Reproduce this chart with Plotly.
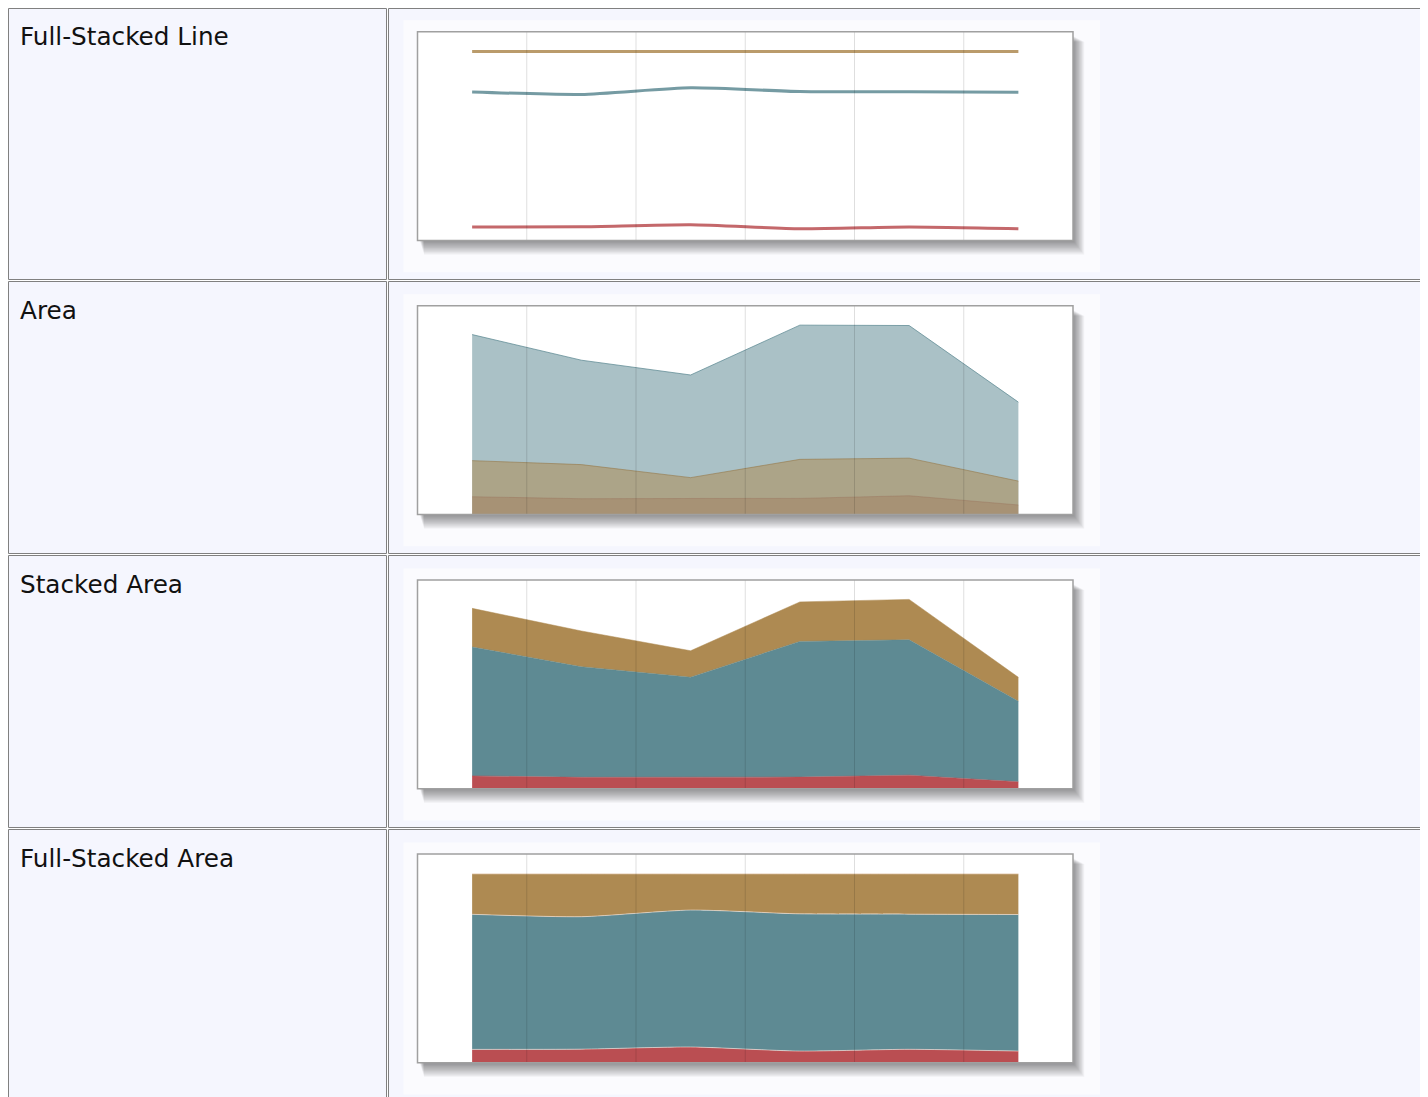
import plotly.graph_objects as go

# page has an 8px body margin, so the figure covers the rest of the window
OFF = 8
W, H = 1420, 1089

points = ["P1", "P2", "P3", "P4", "P5", "P6"]
red_vals = [18.0, 16.0, 16.2, 16.3, 19.0, 9.7]
blue_vals = [181.2, 155.4, 140.5, 190.7, 190.3, 113.2]
gold_vals = [54.3, 50.3, 37.2, 55.6, 56.8, 33.7]

row_labels = ["Full-Stacked Line", "Area", "Stacked Area", "Full-Stacked Area"]

RED = "#BA4E52"
BLUE = "#5E8A93"
GOLD = "#AE8A52"

CELL_BG = "#F5F6FE"
IMG_BG = "#FBFBFE"
BORDER = "#808080"


def px(x):
    return (x - OFF) / W


def py(y):
    return 1 - (y - OFF) / H


ROW_STEP = 274.1
BOX_L, BOX_R = 417.5, 1073
BOX_TOP0, BOX_H = 31.7, 208.8

fig = go.Figure()
shapes = []
annotations = []

# === table cells ===
row_tops = [8.5, 281.5, 555.5, 829.5]
row_bots = [279.5, 553.5, 827.5, 1110]
for t, b in zip(row_tops, row_bots):
    for x0, x1 in [(8.5, 386.5), (388.5, 1440)]:
        shapes.append(dict(type="rect", xref="paper", yref="paper", layer="below",
                           x0=px(x0), x1=px(x1), y0=py(b), y1=py(t),
                           fillcolor=CELL_BG, line=dict(color=BORDER, width=1)))

# === thumbnails ===
for k in range(4):
    top = BOX_TOP0 + k * ROW_STEP
    bot = top + BOX_H
    img_t = top - 11.5
    shapes.append(dict(type="rect", xref="paper", yref="paper", layer="below",
                       x0=px(403.5), x1=px(1100), y0=py(img_t + 252), y1=py(img_t),
                       fillcolor=IMG_BG, line=dict(width=0)))
    # soft drop shadow
    for i in range(1, 16):
        shapes.append(dict(type="rect", xref="paper", yref="paper", layer="below",
                           x0=px(BOX_L + 2 + i * 0.3), x1=px(BOX_R + i * 0.75),
                           y0=py(bot + i * 0.95), y1=py(top + 4 + i * 0.4),
                           fillcolor="rgba(0,0,0,0.03)", line=dict(width=0)))
    shapes.append(dict(type="rect", xref="paper", yref="paper", layer="below",
                       x0=px(BOX_L), x1=px(BOX_R), y0=py(bot), y1=py(top),
                       fillcolor="white", line=dict(width=0)))

    annotations.append(dict(xref="paper", yref="paper", x=px(18), y=py(20 + k * ROW_STEP),
                            xanchor="left", yanchor="top", showarrow=False,
                            text=row_labels[k],
                            font=dict(family="DejaVu Sans, Verdana", size=24.7, color="#111111")))

    xa = "xaxis" if k == 0 else f"xaxis{k + 1}"
    ya = "yaxis" if k == 0 else f"yaxis{k + 1}"
    xr = "x" if k == 0 else f"x{k + 1}"
    yr = "y" if k == 0 else f"y{k + 1}"
    fig.layout[xa] = dict(domain=[px(BOX_L), px(BOX_R)], range=[-0.5, len(points) - 0.5],
                          type="category", showgrid=False, zeroline=False, showline=False,
                          showticklabels=False, ticks="", anchor=yr, fixedrange=True)
    fig.layout[ya] = dict(domain=[py(bot), py(top)], showgrid=False, zeroline=False,
                          showline=False, showticklabels=False, ticks="", anchor=xr,
                          fixedrange=True)

    # vertical grid lines at category boundaries (drawn over the data)
    for j in range(len(points) - 1):
        shapes.append(dict(type="line", xref=xr, yref=f"{yr} domain", layer="above",
                           x0=j + 0.5, x1=j + 0.5, y0=0, y1=1,
                           line=dict(color="rgba(0,0,0,0.13)", width=1)))
    # box border
    shapes.append(dict(type="rect", xref="paper", yref="paper", layer="above",
                       x0=px(BOX_L), x1=px(BOX_R), y0=py(bot), y1=py(top),
                       line=dict(color="#A0A0A0", width=1.5)))

# === Full-Stacked Line ===
for vals, col in [(red_vals, RED), (blue_vals, BLUE), (gold_vals, GOLD)]:
    fig.add_trace(go.Scatter(x=points, y=vals, xaxis="x", yaxis="y", mode="lines",
                             stackgroup="fsl", groupnorm="percent", fill="none",
                             line=dict(color=col, width=3, shape="spline", smoothing=0.6),
                             opacity=0.85, hoverinfo="skip"))
fig.layout.yaxis.range = [0, 110.5]

# === Area (overlapping, semi-transparent) ===
for vals, fillc, linec in [
    (blue_vals, "rgba(94,138,147,0.53)", "rgba(94,138,147,0.75)"),
    (gold_vals, "rgba(174,138,82,0.53)", "rgba(150,120,72,0.6)"),
    (red_vals, "rgba(150,90,60,0.25)", "rgba(150,100,80,0.3)"),
]:
    fig.add_trace(go.Scatter(x=points, y=vals, xaxis="x2", yaxis="y2", mode="lines",
                             fill="tozeroy", fillcolor=fillc,
                             line=dict(color=linec, width=1), hoverinfo="skip"))
fig.layout.yaxis2.range = [0, max(blue_vals) * 1.102]

# === Stacked Area ===
for vals, col in [(red_vals, RED), (blue_vals, BLUE), (gold_vals, GOLD)]:
    fig.add_trace(go.Scatter(x=points, y=vals, xaxis="x3", yaxis="y3", mode="lines",
                             stackgroup="sa", fillcolor=col,
                             line=dict(color=col, width=0.5), hoverinfo="skip"))
totals = [r + b + g for r, b, g in zip(red_vals, blue_vals, gold_vals)]
fig.layout.yaxis3.range = [0, max(totals) * 1.103]

# === Full-Stacked Area ===
for vals, col in [(red_vals, RED), (blue_vals, BLUE), (gold_vals, GOLD)]:
    fig.add_trace(go.Scatter(x=points, y=vals, xaxis="x4", yaxis="y4", mode="lines",
                             stackgroup="fsa", groupnorm="percent", fillcolor=col,
                             line=dict(color="rgba(255,235,225,0.55)", width=1,
                                       shape="spline", smoothing=0.6),
                             hoverinfo="skip"))
fig.layout.yaxis4.range = [0, 110.5]

fig.update_layout(
    width=W, height=H,
    margin=dict(l=0, r=0, t=0, b=0),
    paper_bgcolor="white",
    plot_bgcolor="rgba(0,0,0,0)",
    showlegend=False,
    shapes=shapes,
    annotations=annotations,
)

fig.write_html("out.html", config={"displayModeBar": False})
